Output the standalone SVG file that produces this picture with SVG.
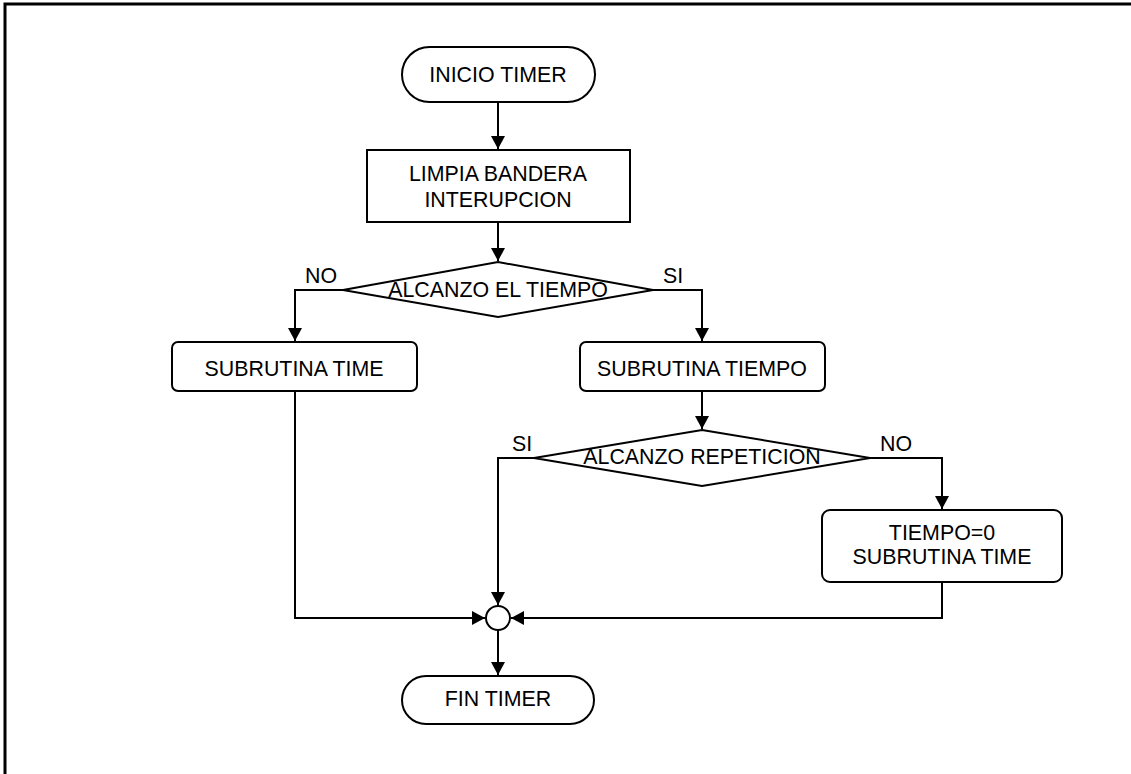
<svg xmlns="http://www.w3.org/2000/svg" width="1131" height="774" viewBox="0 0 1131 774">
<defs>
<marker id="arr" markerUnits="userSpaceOnUse" markerWidth="14" markerHeight="14" refX="13" refY="7" orient="auto">
<path d="M0,0 L13,7 L0,14 z" fill="#000"/>
</marker>
<style>
.s{fill:#fff;stroke:#000;stroke-width:2}
.c{fill:none;stroke:#000;stroke-width:2;marker-end:url(#arr)}
text{font-family:"Liberation Sans",Arial,sans-serif;font-size:23px;fill:#000}
.m{text-anchor:middle}
</style>
</defs>
<rect x="0" y="0" width="1131" height="774" fill="#fff"/>
<path d="M5,774 V4 H1131" fill="none" stroke="#000" stroke-width="3"/>
<g id="connectors">
<path class="c" d="M498,102 V149"/>
<path class="c" d="M498,222 V261"/>
<path class="c" d="M343,290 H295 V341"/>
<path class="c" d="M653,290 H702 V341"/>
<path class="c" d="M702,391 V429"/>
<path class="c" d="M534,458 H498 V605"/>
<path class="c" d="M870,458 H942 V509"/>
<path class="c" d="M295,391 V618 H485"/>
<path class="c" d="M942,582 V618 H511"/>
<path class="c" d="M498,630 V675"/>
</g>
<g id="inicio">
<rect class="s" x="402" y="47" width="193" height="55" rx="27.5"/>
<text class="m" transform="scale(0.93 1)" x="535.48" y="82">INICIO TIMER</text>
</g>
<g id="limpia">
<rect class="s" x="367" y="150" width="263" height="72"/>
<text class="m" transform="scale(0.93 1)" x="535.48" y="181">LIMPIA BANDERA</text>
<text class="m" transform="scale(0.93 1)" x="535.48" y="207">INTERUPCION</text>
</g>
<g id="alcanzo-tiempo">
<polygon class="s" points="498,262 653,290 498,317 343,290"/>
<text class="m" transform="scale(0.93 1)" x="535.48" y="297">ALCANZO EL TIEMPO</text>
<text transform="scale(0.93 1)" x="327.96" y="283">NO</text>
<text transform="scale(0.93 1)" x="712.90" y="283">SI</text>
</g>
<g id="sub-time">
<rect class="s" x="172" y="342" width="245" height="49" rx="6"/>
<text class="m" transform="scale(0.93 1)" x="316.13" y="376">SUBRUTINA TIME</text>
</g>
<g id="sub-tiempo">
<rect class="s" x="580" y="342" width="245" height="49" rx="6"/>
<text class="m" transform="scale(0.93 1)" x="754.84" y="376">SUBRUTINA TIEMPO</text>
</g>
<g id="alcanzo-repeticion">
<polygon class="s" points="702,430 870,458 702,486 534,458"/>
<text class="m" transform="scale(0.93 1)" x="754.84" y="464">ALCANZO REPETICION</text>
<text transform="scale(0.93 1)" x="550.54" y="451">SI</text>
<text transform="scale(0.93 1)" x="946.24" y="451">NO</text>
</g>
<g id="tiempo0">
<rect class="s" x="822" y="510" width="240" height="72" rx="8"/>
<text class="m" transform="scale(0.93 1)" x="1012.90" y="540">TIEMPO=0</text>
<text class="m" transform="scale(0.93 1)" x="1012.90" y="564">SUBRUTINA TIME</text>
</g>
<g id="junction">
<circle class="s" cx="498" cy="618" r="12"/>
</g>
<g id="fin">
<rect class="s" x="402" y="676" width="192" height="48" rx="24"/>
<text class="m" transform="scale(0.93 1)" x="535.48" y="706">FIN TIMER</text>
</g>
</svg>
